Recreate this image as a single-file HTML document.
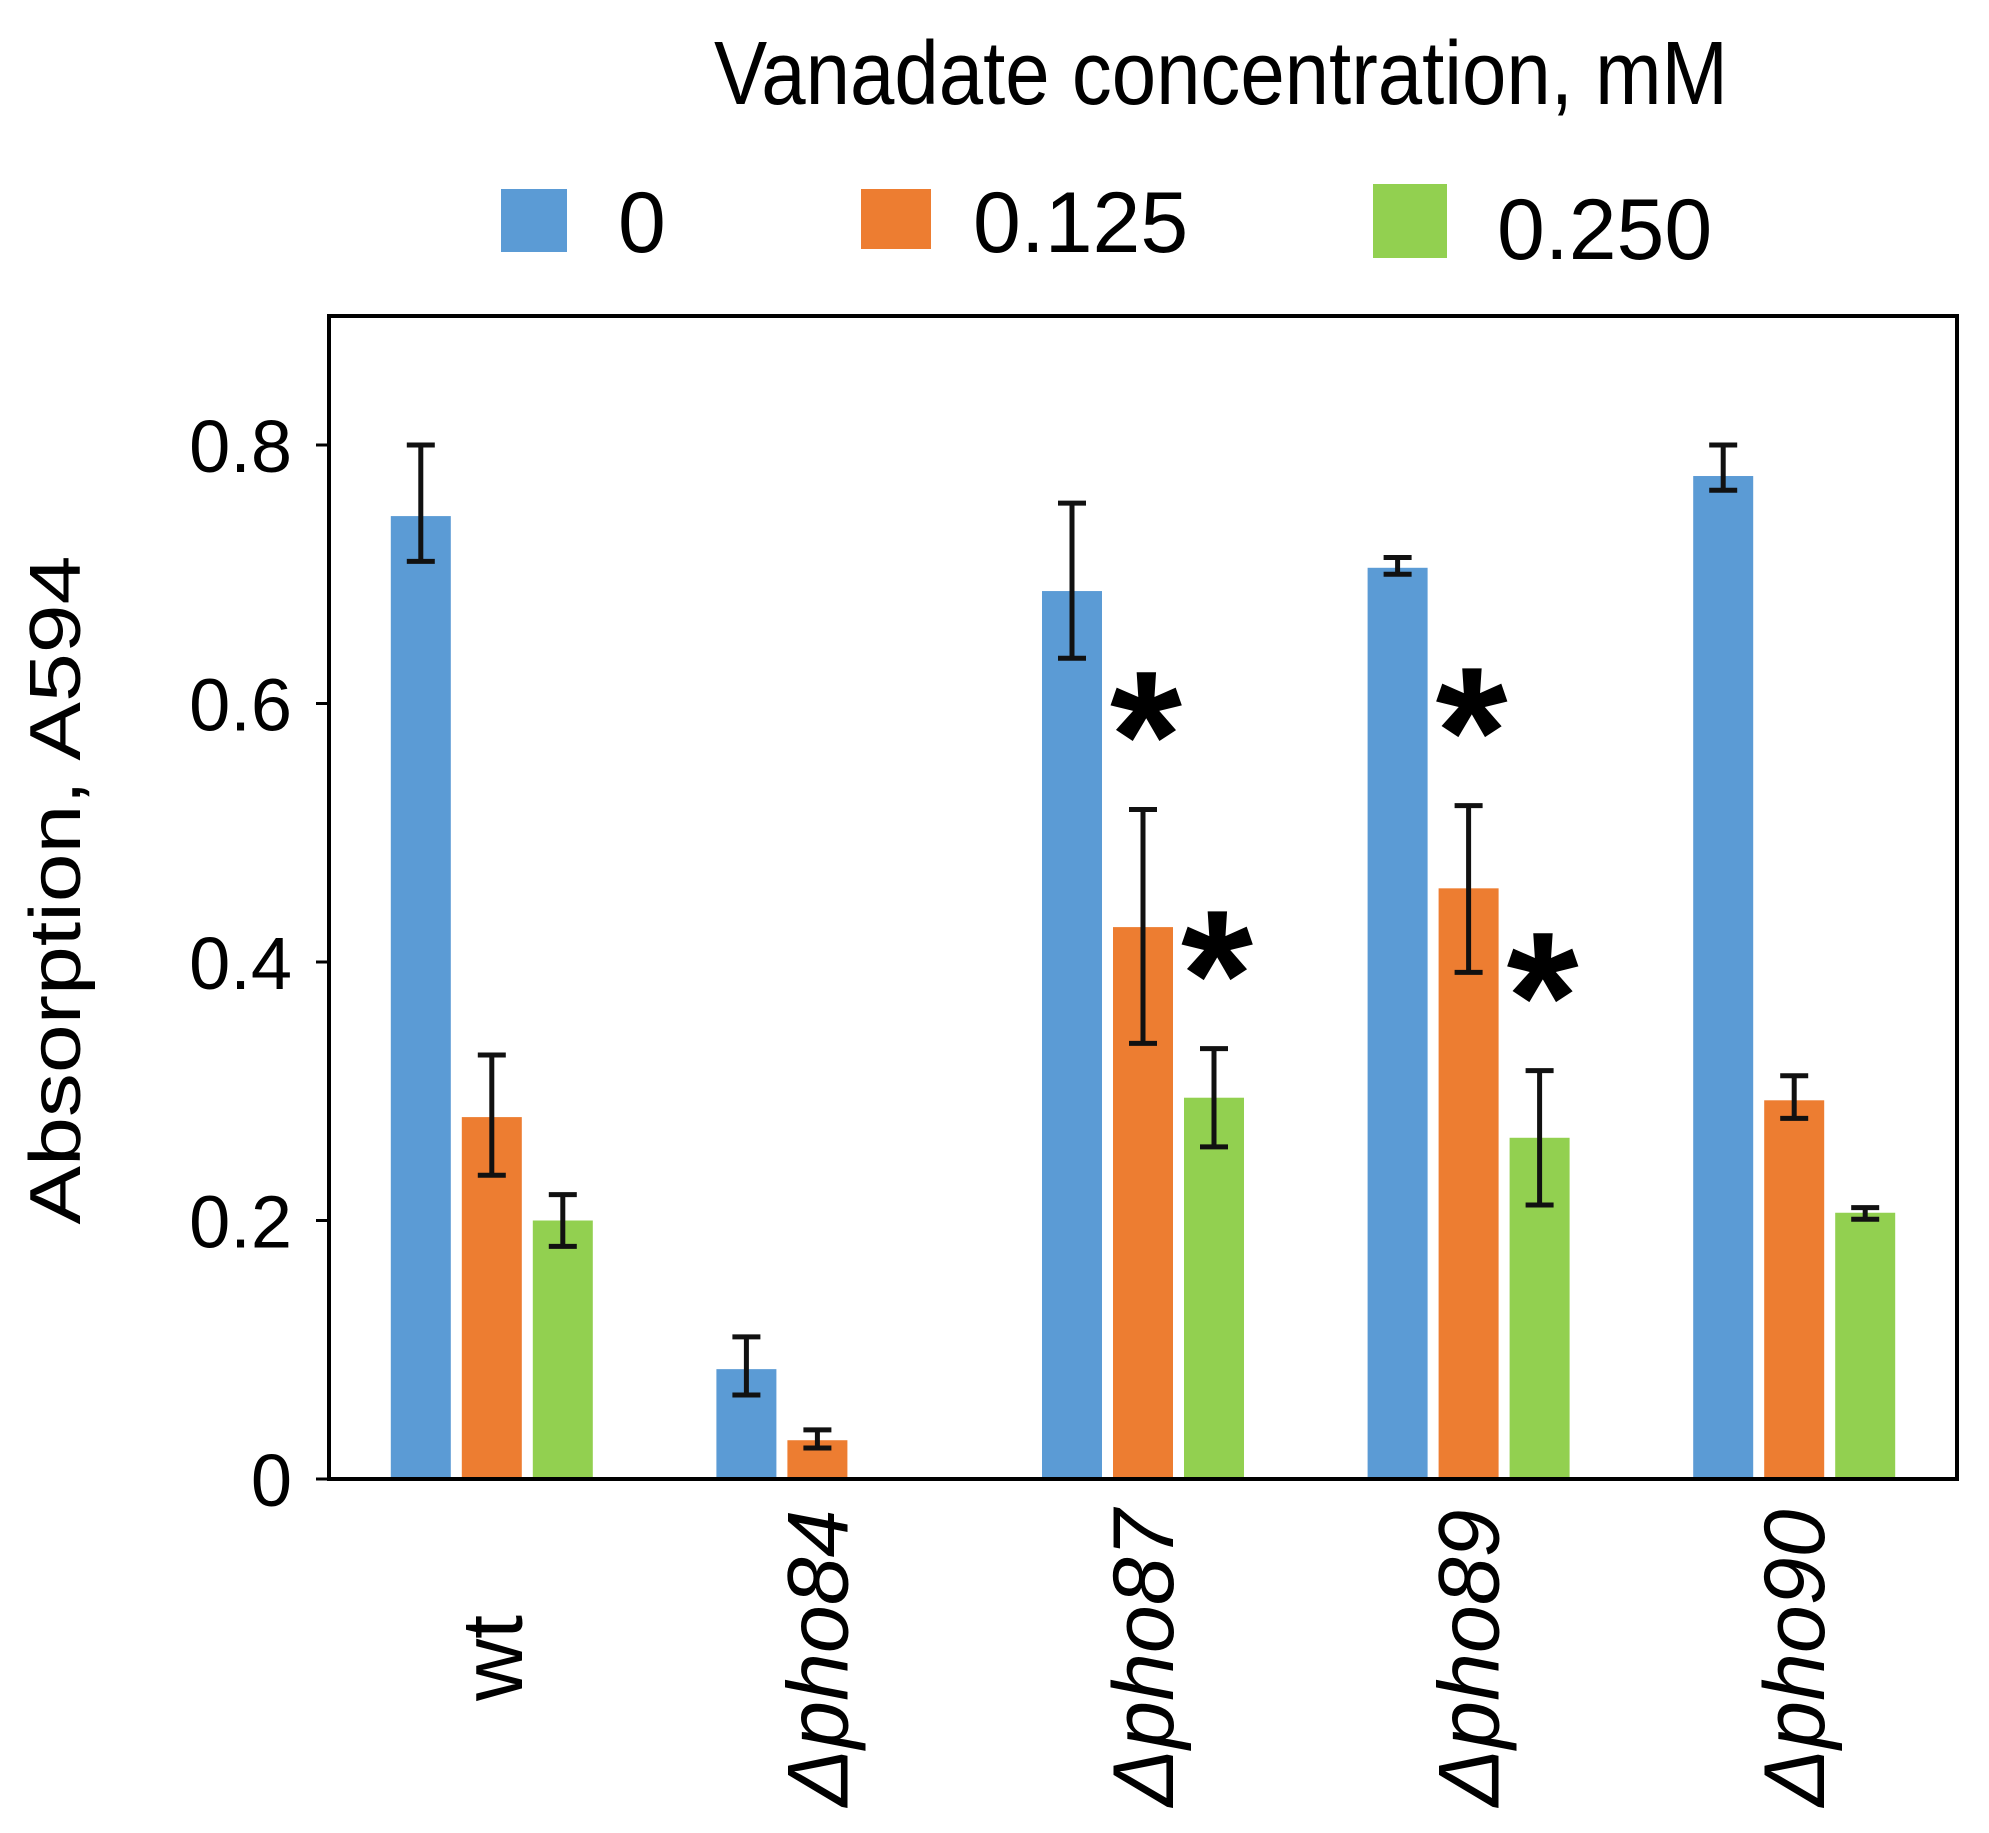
<!DOCTYPE html>
<html><head><meta charset="utf-8"><style>
html,body{margin:0;padding:0;background:#fff;}
svg{display:block;font-family:"Liberation Sans",Arial,sans-serif;}
</style></head><body>
<svg id="chart" width="1989" height="1833" viewBox="0 0 1989 1833">
<text x="1221" y="104" font-size="90" text-anchor="middle" textLength="1014" lengthAdjust="spacingAndGlyphs">Vanadate concentration, mM</text>
<g>
<g><rect x="501" y="189" width="66" height="63" fill="#5b9bd5"/><text x="618" y="252" font-size="86">0</text></g>
<g><rect x="861" y="189" width="70" height="60" fill="#ed7d31"/><text x="973" y="252" font-size="86">0.125</text></g>
<g><rect x="1373" y="184" width="74" height="74" fill="#92d050"/><text x="1497" y="259" font-size="86">0.250</text></g>
</g>
<rect x="329" y="316" width="1628" height="1163" fill="none" stroke="#000" stroke-width="4"/>
<g id="yticks"></g>
<g id="bars"></g>
<g id="xlabels"></g>
<text transform="translate(80,890) rotate(-90)" font-size="72" text-anchor="middle" textLength="669" lengthAdjust="spacingAndGlyphs">Absorption, A594</text>
</svg>
<script>
const categories = ["wt","\u0394pho84","\u0394pho87","\u0394pho89","\u0394pho90"];
const seriesNames = ["0","0.125","0.250"];
const values0 = [0.745,0.085,0.687,0.705,0.776];
const values125 = [0.280,0.030,0.427,0.457,0.293];
const values250 = [0.200,0,0.295,0.264,0.206];
const errHi0 = [0.800,0.110,0.755,0.713,0.800];
const errLo0 = [0.710,0.065,0.635,0.700,0.765];
const errHi125 = [0.328,0.038,0.518,0.521,0.312];
const errLo125 = [0.235,0.024,0.337,0.392,0.279];
const errHi250 = [0.220,null,0.333,0.316,0.210];
const errLo250 = [0.180,null,0.257,0.212,0.201];
const stars125 = [false,false,true,true,false];
const stars250 = [false,false,true,true,false];
const yTicks = [0,0.2,0.4,0.6,0.8];
const yTickLabels = ["0","0.2","0.4","0.6","0.8"];

const NS="http://www.w3.org/2000/svg";
const plotL=329, plotR=1957, axisY=1479, pxPer=(1479-445)/0.8;
function y(v){return axisY - v*pxPer;}
function xc(i){return plotL + (plotR-plotL)/categories.length*(i+0.5);}
function mk(tag,attrs,parent){const e=document.createElementNS(NS,tag);for(const k in attrs)e.setAttribute(k,attrs[k]);parent.appendChild(e);return e;}

const yt=document.getElementById('yticks');
yTicks.forEach((v,i)=>{
  const t=mk('text',{x:292,y:y(v)+27,'font-size':74,'text-anchor':'end'},yt);
  t.textContent=yTickLabels[i];
  
  
  const l=mk('line',{x1:316,x2:329,y1:y(v),y2:y(v),stroke:'#000','stroke-width':3},yt);
  
  
});

const colors=["#5b9bd5","#ed7d31","#92d050"];
const vals=[values0,values125,values250];
const his=[errHi0,errHi125,errHi250];
const los=[errLo0,errLo125,errLo250];
const stars=[null,stars125,stars250];
const bg=document.getElementById('bars');
categories.forEach((c,i)=>{
  for(let s=0;s<3;s++){
    const cx=xc(i)+(s-1)*71;
    const v=vals[s][i];
    if(v>0){
      const r=mk('rect',{x:cx-30,y:y(v),width:60,height:axisY-y(v),fill:colors[s]},bg);
      
      
    }
    if(his[s][i]!=null){
      const g=mk('g',{stroke:'#111','stroke-width':5},bg);
      
      
      mk('line',{x1:cx,x2:cx,y1:y(his[s][i]),y2:y(los[s][i])},g);
      mk('line',{x1:cx-14,x2:cx+14,y1:y(his[s][i]),y2:y(his[s][i])},g);
      mk('line',{x1:cx-14,x2:cx+14,y1:y(los[s][i]),y2:y(los[s][i])},g);
    }
    if(stars[s] && stars[s][i]){
      const st=mk('text',{x:cx+3,y:y(his[s][i])-10,'font-size':185,'font-weight':'bold','text-anchor':'middle'},bg);
      st.textContent='*';
      
      
    }
  }
});
const ax=mk('line',{x1:plotL,x2:plotR,y1:axisY,y2:axisY,stroke:'#000','stroke-width':4},bg);



const xl=document.getElementById('xlabels');
categories.forEach((c,i)=>{
  const t=mk('text',{transform:`translate(${xc(i)+30},1658) rotate(-90)`,'font-size':86,'text-anchor':'middle','font-style':i===0?'normal':'italic'},xl);
  t.textContent=c;
  
  
});
</script>
</body></html>
